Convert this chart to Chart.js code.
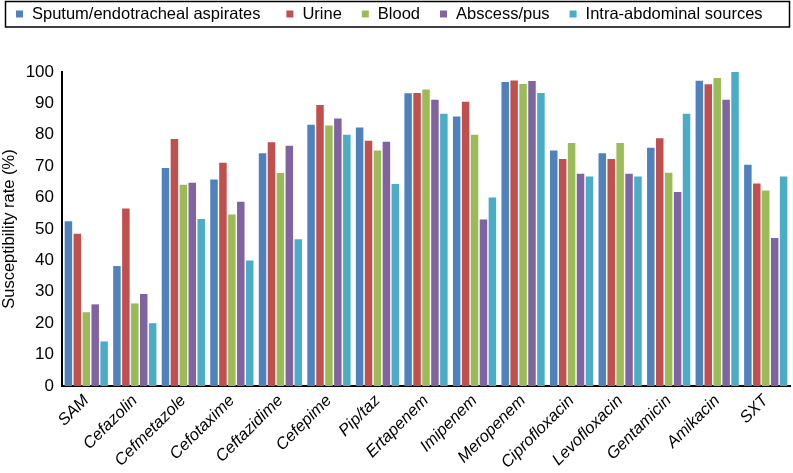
<!DOCTYPE html>
<html><head><meta charset="utf-8">
<script src="https://cdn.jsdelivr.net/npm/chart.js@4/dist/chart.umd.min.js"></script>
<style>html,body{margin:0;padding:0;background:#fff}#wrap{width:793px;height:473px}</style>
</head><body><div id="wrap"><canvas id="c" width="793" height="473"></canvas></div>
<script>
const categories = ["SAM","Cefazolin","Cefmetazole","Cefotaxime","Ceftazidime","Cefepime","Pip/taz","Ertapenem","Imipenem","Meropenem","Ciprofloxacin","Levofloxacin","Gentamicin","Amikacin","SXT"];
const sputum  = [52.5,38.2,69.4,65.8,74.1,83.2,82.3,93.2,85.8,96.8,75.0,74.1,75.9,97.2,70.5];
const urine   = [48.5,56.5,78.7,71.1,77.6,89.5,78.1,93.3,90.5,97.3,72.3,72.3,78.9,96.1,64.5];
const blood   = [23.5,26.3,64.1,54.6,67.8,83.0,75.0,94.4,80.0,96.2,77.4,77.4,67.9,98.1,62.3];
const abscess = [26.0,29.3,64.7,58.7,76.5,85.2,77.8,91.2,53.0,97.1,67.6,67.6,61.8,91.2,47.1];
const intraAbd= [14.2,20.0,53.2,40.0,46.7,80.0,64.3,86.7,60.0,93.3,66.7,66.7,86.7,100.0,66.7];
const seriesNames = ["Sputum/endotracheal aspirates","Urine","Blood","Abscess/pus","Intra-abdominal sources"];
const yTicks = [0,10,20,30,40,50,60,70,80,90,100];

const colors = ["#4F81BD","#C0504D","#9BBB59","#8064A2","#4BACC6"];
const values = [sputum,urine,blood,abscess,intraAbd];

const FONT = "'Liberation Sans', Arial, sans-serif";

// legend drawn in a box, built from the datasets
const boxedLegend = {
  id:'boxedLegend',
  afterDraw(chart){
    const ctx = chart.ctx;
    ctx.save();
    ctx.strokeStyle = '#000';
    ctx.lineWidth = 1.5;
    ctx.strokeRect(5.5, 1.5, 784, 25.5);
    ctx.font = "16.5px " + FONT;
    ctx.textBaseline = 'middle';
    const gaps = [26, 20, 20, 20];
    let x = 16;
    chart.data.datasets.forEach((ds, i) => {
      ctx.fillStyle = ds.backgroundColor;
      ctx.fillRect(x, 10.5, 7, 7);
      ctx.fillStyle = '#000';
      ctx.fillText(ds.label, x + 16, 14.5);
      x += 16 + ctx.measureText(ds.label).width + (gaps[i] || 0);
    });
    ctx.restore();
  }
};

Chart.defaults.font.family = FONT;
Chart.defaults.color = '#000';

new Chart(document.getElementById('c'), {
  type: 'bar',
  data: {
    labels: categories,
    datasets: values.map((v,i)=>({
      label: seriesNames[i],
      data: v,
      backgroundColor: colors[i],
      borderWidth: 0,
      categoryPercentage: 0.92,
      barPercentage: 0.84
    }))
  },
  options: {
    responsive: false,
    animation: false,
    layout: { padding: { left: 0, right: 3, top: 72, bottom: 0 } },
    plugins: {
      legend: { display: false },
      tooltip: { enabled: false }
    },
    scales: {
      x: {
        grid: { display: false, drawTicks: false },
        border: { color: '#000', width: 2 },
        ticks: { maxRotation: 45, minRotation: 45, font: { size: 16.5, style: 'italic' }, padding: 5, autoSkip: false },
        afterFit(axis){ axis.height = 87; }
      },
      y: {
        min: 0, max: 100,
        afterBuildTicks(axis){ axis.ticks = yTicks.map(v=>({value:v})); },
        grid: { display: false, drawTicks: true, tickLength: 5, tickColor: '#000', tickWidth: 1.5 },
        border: { color: '#000', width: 2 },
        ticks: { font: { size: 17 }, padding: 3 },
        title: { display: true, text: 'Susceptibility rate (%)', font: { size: 16.5 }, padding: { top: 0, bottom: 2 } },
        afterFit(axis){ axis.width = 62; }
      }
    }
  },
  plugins: [boxedLegend]
});
</script>
</body></html>
